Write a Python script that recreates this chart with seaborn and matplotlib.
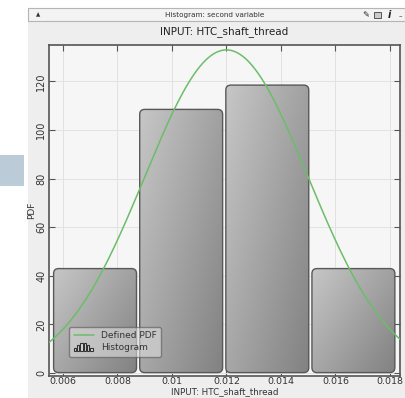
import numpy as np
import pandas as pd
import matplotlib
matplotlib.use("Agg")
import matplotlib.pyplot as plt
from matplotlib.patches import FancyBboxPatch, Rectangle
from matplotlib.legend_handler import HandlerBase
from matplotlib.lines import Line2D
import seaborn as sns

# Histogram of the sampled input (bin edges and density heights)
bin_edges = [0.0056, 0.00876, 0.01192, 0.01508, 0.01824]
bin_heights = [43, 108.5, 118.5, 43]

# Defined normal PDF for the input variable
pdf_mean = 0.012
pdf_std = 0.003

x_ticks = [0.006, 0.008, 0.010, 0.012, 0.014, 0.016, 0.018]
x_tick_labels = ["0.006", "0.008", "0.01", "0.012", "0.014", "0.016", "0.018"]
y_ticks = [0, 20, 40, 60, 80, 100, 120]

window_title = "Histogram: second variable"
plot_title = "INPUT: HTC_shaft_thread"
x_label = "INPUT: HTC_shaft_thread"
y_label = "PDF"

sns.set_theme(style="whitegrid")
plt.rcParams["font.family"] = ["DejaVu Sans"]

W, H = 405, 398
fig = plt.figure(figsize=(W / 100, H / 100), dpi=100)
fig.patch.set_facecolor("white")


def fx(px):
    return px / W


def fy(py):
    return 1 - py / H


# window panel and title bar
fig.add_artist(Rectangle((fx(28), 0), fx(405 - 28), fy(21), transform=fig.transFigure,
                         facecolor="#eeeeee", edgecolor="none", zorder=0))
fig.add_artist(Rectangle((fx(28), fy(21)), fx(405 - 28), 13 / H, transform=fig.transFigure,
                         facecolor="#f3f3f3", edgecolor="#b5b5b5", lw=0.8, zorder=1))
fig.text(fx(215), fy(14.5), window_title, fontsize=5.2, color="#333333",
         ha="center", va="center")
fig.text(fx(38), fy(14.5), "\u25b2", fontsize=4, color="#333333", ha="center", va="center")
fig.text(fx(366), fy(14.5), "\u270e", fontsize=6, color="#222222", ha="center", va="center")
fig.add_artist(Rectangle((fx(374), fy(17.5)), 7 / W, 6 / H, transform=fig.transFigure,
                         facecolor="#cccccc", edgecolor="#555555", lw=0.7, zorder=2))
fig.text(fx(389), fy(14.5), "i", fontsize=7, color="#222222", ha="center", va="center",
         style="italic", fontweight="bold")
fig.text(fx(400), fy(16), "\u2013", fontsize=5, color="#222222", ha="center", va="center")

# side marker
fig.add_artist(Rectangle((0, fy(186)), fx(24), 31 / H, transform=fig.transFigure,
                         facecolor="#bccbd8", edgecolor="none", zorder=1))

ax = fig.add_axes([fx(49), fy(376), fx(400 - 49), (376 - 45) / H])
ax.set_facecolor("#f6f6f6")

centers = [(a + b) / 2 for a, b in zip(bin_edges[:-1], bin_edges[1:])]
hist_df = pd.DataFrame({"value": centers, "height": bin_heights})
sns.histplot(data=hist_df, x="value", weights="height", bins=bin_edges,
             stat="count", ax=ax, color="#a0a0a0", edgecolor="none", alpha=0)

ax.set_xlim(0.00549, 0.01837)
ax.set_ylim(-1.2, 135)
fig.canvas.draw()

# data units per pixel
x_per_px = (0.01837 - 0.00549) / (400 - 49)
y_per_px = (135 + 1.2) / (376 - 45)
aspect = y_per_px / x_per_px

grad = np.linspace(0, 1, 64)
gx, gy = np.meshgrid(grad, grad)
shade = 0.55 * gx + 0.45 * (1 - gy)
cmap = matplotlib.colors.LinearSegmentedColormap.from_list("bar", ["#c6c6c6", "#828282"])

for p in list(ax.patches):
    x0, w, h = p.get_x(), p.get_width(), p.get_height()
    p.remove()
    gap = 1.6 * x_per_px
    bx0, bx1 = x0 + gap, x0 + w - gap
    box = FancyBboxPatch((bx0, 0.2), bx1 - bx0, h - 0.2,
                         boxstyle=f"round,pad=0,rounding_size={5 * x_per_px}",
                         mutation_aspect=aspect, facecolor="none",
                         edgecolor="#585858", lw=1.0, zorder=3)
    ax.add_patch(box)
    im = ax.imshow(shade, cmap=cmap, extent=(bx0, bx1, 0.2, h), origin="lower",
                   aspect="auto", zorder=2, vmin=0, vmax=1, interpolation="bilinear")
    im.set_clip_path(box)

ax.set_xlim(0.00549, 0.01837)
ax.set_ylim(-1.2, 135)

xs = np.linspace(0.00549, 0.01837, 300)
pdf = np.exp(-0.5 * ((xs - pdf_mean) / pdf_std) ** 2) / (pdf_std * np.sqrt(2 * np.pi))
sns.lineplot(x=xs, y=pdf, ax=ax, color="#6cbd6a", lw=1.1, zorder=4)

ax.set_xticks(x_ticks)
ax.set_xticklabels(x_tick_labels)
ax.set_yticks(y_ticks)
ax.tick_params(axis="both", direction="in", length=4, width=0.8, color="#555555",
               labelsize=7, labelcolor="#333333", top=True, right=True,
               bottom=True, left=True, pad=2)
ax.tick_params(axis="x", pad=1, labelsize=6.8)
for lab in ax.get_yticklabels():
    lab.set_rotation(90)
    lab.set_va("center")
ax.grid(True, color="#e2e2e2", lw=0.7)
for s in ax.spines.values():
    s.set_color("#555555")
    s.set_linewidth(1.2)

ax.set_xlabel(x_label, fontsize=6.3, color="#333333", labelpad=0.2)
ax.set_ylabel(y_label, fontsize=6.5, color="#333333", labelpad=0)
ax.set_title(plot_title, fontsize=7.5, color="#222222", pad=8)


class HistIconHandler(HandlerBase):
    def create_artists(self, legend, orig_handle, xdescent, ydescent, width, height,
                       fontsize, trans):
        arts = []
        levels = [0.45, 0.8, 1.05, 1.05, 0.8, 0.45]
        bw = width / len(levels)
        for i, lv in enumerate(levels):
            r = Rectangle((i * bw - xdescent, -ydescent - 1), bw * 0.7, (height + 1) * lv,
                          facecolor="#dddddd", edgecolor="#333333", lw=0.8, transform=trans)
            arts.append(r)
        return arts


pdf_handle = Line2D([], [], color="#6cbd6a", lw=1.1)
hist_handle = Rectangle((0, 0), 1, 1)
leg = ax.legend([pdf_handle, hist_handle], ["Defined PDF", "Histogram"],
                handler_map={Rectangle: HistIconHandler()},
                loc="lower left", bbox_to_anchor=(0.045, 0.045), fontsize=6.5,
                frameon=True, fancybox=True, framealpha=0.6, facecolor="#dcdcdc",
                edgecolor="#555555", handlelength=2.2, handletextpad=0.8,
                borderpad=0.5, labelspacing=0.3)
for t in leg.get_texts():
    t.set_color("#333333")
leg.set_zorder(6)

fig.savefig("out.png", dpi=100, facecolor=fig.get_facecolor())
